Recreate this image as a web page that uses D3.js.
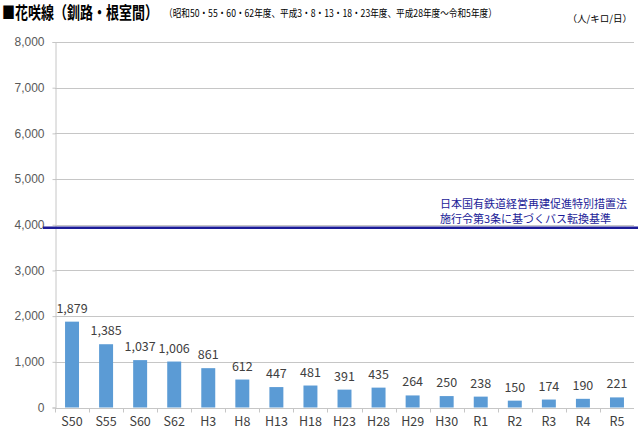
<!DOCTYPE html>
<html>
<head>
<meta charset="utf-8">
<script src="https://cdn.jsdelivr.net/npm/d3@7"></script>
<style>
  body { margin: 0; background: #fff; }
  svg { display: block; font-family: "Noto Sans CJK JP", "Liberation Sans", sans-serif; }
</style>
</head>
<body>
<div id="chart"></div>
<script>
// data
const categories = ["S50", "S55", "S60", "S62", "H3", "H8", "H13", "H18", "H23",
                    "H28", "H29", "H30", "R1", "R2", "R3", "R4", "R5"];
const ridership = [1879, 1385, 1037, 1006, 861, 612, 447, 481, 391,
                   435, 264, 250, 238, 150, 174, 190, 221];
const yTicks = [0, 1000, 2000, 3000, 4000, 5000, 6000, 7000, 8000];
const busThreshold = 4000;
const thresholdLines = ["日本国有鉄道経営再建促進特別措置法", "施行令第3条に基づくバス転換基準"];

const width = 640, height = 433;
const margin = { top: 42, right: 6, bottom: 26, left: 55 };

const svg = d3.select("#chart").append("svg")
    .attr("width", width)
    .attr("height", height);

const x = d3.scaleBand()
    .domain(categories)
    .range([margin.left, width - margin.right])
    .paddingInner(0.59)
    .paddingOuter(0.295);

const y = d3.scaleLinear()
    .domain([0, 8000])
    .range([height - margin.bottom + 0.5, margin.top]);

// gridlines
svg.append("g")
    .selectAll("line")
    .data(yTicks.slice(1))
    .enter().append("line")
    .attr("x1", margin.left)
    .attr("x2", width - margin.right)
    .attr("y1", d => Math.round(y(d)) + 0.5)
    .attr("y2", d => Math.round(y(d)) + 0.5)
    .attr("stroke", "#c6c6c6")
    .attr("stroke-width", 1);

// y axis
const yAxis = svg.append("g")
    .attr("transform", "translate(" + (margin.left + 0.5) + ",0)")
    .call(d3.axisLeft(y).tickValues(yTicks).tickSize(3).tickFormat(d3.format(",")));
yAxis.select(".domain").attr("stroke", "#c6c6c6");
yAxis.selectAll(".tick line").attr("stroke", "#c6c6c6");
yAxis.selectAll(".tick text")
    .attr("x", -11)
    .attr("font-size", "12px")
    .attr("fill", "#595959");

// bars
svg.append("g")
    .selectAll("rect")
    .data(ridership)
    .enter().append("rect")
    .attr("x", (d, i) => x(categories[i]))
    .attr("y", d => y(d))
    .attr("width", x.bandwidth())
    .attr("height", d => y(0) - y(d))
    .attr("fill", "#5b9bd5");

// x axis with ticks between categories
const xAxisY = Math.round(y(0)) + 0.5;
svg.append("line")
    .attr("x1", margin.left)
    .attr("x2", width - margin.right)
    .attr("y1", xAxisY)
    .attr("y2", xAxisY)
    .attr("stroke", "#c6c6c6");
svg.append("g")
    .selectAll("line")
    .data(categories)
    .enter().append("line")
    .attr("x1", d => Math.round(x(d) - x.step() * x.paddingInner() / 2) + 0.5)
    .attr("x2", d => Math.round(x(d) - x.step() * x.paddingInner() / 2) + 0.5)
    .attr("y1", xAxisY)
    .attr("y2", xAxisY + 4)
    .attr("stroke", "#c6c6c6");

svg.append("g")
    .selectAll("text")
    .data(categories)
    .enter().append("text")
    .attr("x", d => x(d) + x.bandwidth() / 2)
    .attr("y", 426)
    .attr("text-anchor", "middle")
    .attr("font-size", "12.5px")
    .attr("fill", "#404040")
    .text(d => d);

// value labels
svg.append("g")
    .selectAll("text")
    .data(ridership)
    .enter().append("text")
    .attr("x", (d, i) => x(categories[i]) + x.bandwidth() / 2)
    .attr("y", d => y(d) - 9)
    .attr("text-anchor", "middle")
    .attr("font-size", "12.5px")
    .attr("fill", "#404040")
    .text(d => d3.format(",")(d));

// bus conversion threshold line
svg.append("line")
    .attr("x1", 43)
    .attr("x2", 638)
    .attr("y1", y(busThreshold) + 3)
    .attr("y2", y(busThreshold) + 3)
    .attr("stroke", "#1c1c98")
    .attr("stroke-width", 2.5);

svg.append("g")
    .selectAll("text")
    .data(thresholdLines)
    .enter().append("text")
    .attr("x", 440)
    .attr("y", (d, i) => 208 + i * 14.5)
    .attr("font-size", "11px")
    .attr("fill", "#1c1c98")
    .text(d => d);

// squeeze a text horizontally so it fits the width seen in the reference
function fitText(sel, left, baseline, targetWidth) {
    const natural = sel.node().getComputedTextLength();
    const k = Math.min(1, targetWidth / natural);
    sel.attr("transform", "translate(" + left + "," + baseline + ") scale(" + k + ",1)");
}

// title
const title = svg.append("text")
    .attr("font-size", "17px")
    .attr("font-weight", "bold")
    .attr("fill", "#000")
    .text("■花咲線（釧路・根室間）");
fitText(title, 2, 19, 156);

const subtitle = svg.append("text")
    .attr("font-size", "10.5px")
    .attr("fill", "#000")
    .text("（昭和50・55・60・62年度、平成3・8・13・18・23年度、平成28年度～令和5年度）");
fitText(subtitle, 164, 17, 333);

svg.append("text")
    .attr("x", 632)
    .attr("y", 22)
    .attr("text-anchor", "end")
    .attr("font-size", "9.5px")
    .attr("fill", "#000")
    .text("（人/キロ/日）");
</script>
</body>
</html>
